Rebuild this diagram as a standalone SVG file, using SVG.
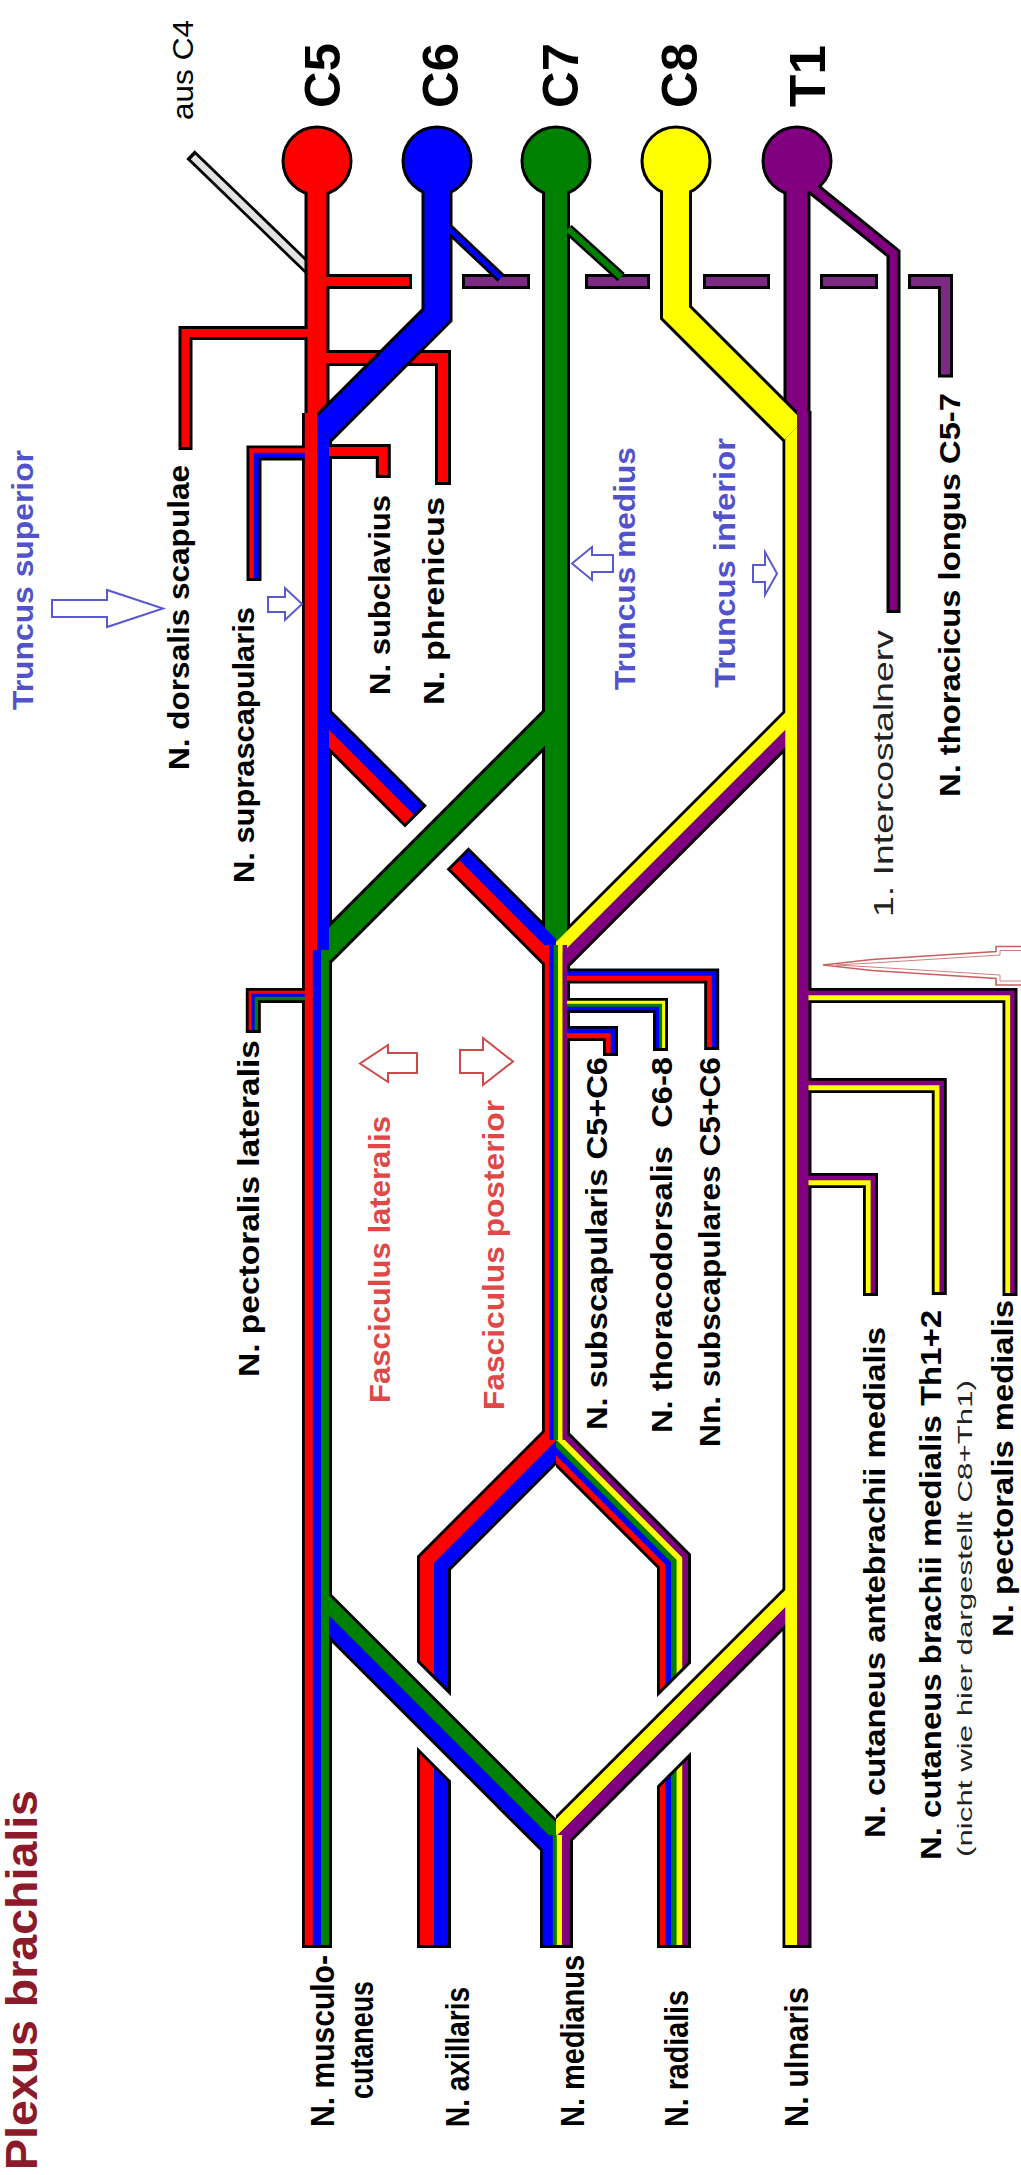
<svg xmlns="http://www.w3.org/2000/svg" width="1021" height="2175" viewBox="0 0 1021 2175">
<style>
path{fill:none;stroke-linejoin:miter;stroke-linecap:butt}
.k{stroke:#000}
.r{stroke:#f00}.b{stroke:#00f}.g{stroke:#008000}.y{stroke:#ff0}.p{stroke:#800080}
.w{stroke:#e2e2e2}
.dash{fill:#7d2a85;stroke:#000;stroke-width:3}
circle{stroke:#000;stroke-width:3}
text{font-family:"Liberation Sans",Arial,sans-serif}
.lb{font-weight:bold;font-size:30px;fill:#000}
.lr{font-size:28px;fill:#222}
.tb{font-weight:bold;font-size:30px;fill:#5252cc}
.tr{font-weight:bold;font-size:30px;fill:#e04848}
.root{font-weight:bold;font-size:50px;fill:#000}
.bt{font-weight:bold;font-size:33px;fill:#000}
.arB{fill:#fff;stroke:#5a5ad0;stroke-width:2}
.arR{fill:#fff;stroke:#cc4a4a;stroke-width:2}
</style>
<defs>
<clipPath id="cR317"><rect x="317" y="0" width="704" height="2175"/></clipPath>
<clipPath id="cL556"><rect x="0" y="0" width="556" height="2175"/></clipPath>
<clipPath id="cL797"><rect x="0" y="0" width="797" height="2175"/></clipPath>
<clipPath id="c317_556"><rect x="317" y="0" width="239" height="2175"/></clipPath>
<clipPath id="c556_797"><rect x="556" y="0" width="241" height="2175"/></clipPath>
<clipPath id="axUK"><polygon points="0,0 556,0 556,1801.2 0,1245.2"/></clipPath>
<clipPath id="axUC"><polygon points="0,0 556,0 556,1797 0,1241"/></clipPath>
<clipPath id="axLK"><polygon points="0,1329.8 620,1949.8 620,2175 0,2175"/></clipPath>
<clipPath id="axLC"><polygon points="0,1334 620,1954 620,2175 0,2175"/></clipPath>
<clipPath id="raUK"><polygon points="556,0 1021,0 1021,1333.2 556,1798.2"/></clipPath>
<clipPath id="raUC"><polygon points="556,0 1021,0 1021,1329 556,1794"/></clipPath>
<clipPath id="raLK"><polygon points="600,1842.8 1021,1421.8 1021,2175 600,2175"/></clipPath>
<clipPath id="raLC"><polygon points="600,1847 1021,1426 1021,2175 600,2175"/></clipPath>
</defs>
<rect width="1021" height="2175" fill="#fff"/>

<g id="connectors">
<!-- aus C4 -->
<path class="k" stroke-width="12" d="M190.5 154.6 L312 272"/>
<path class="w" stroke-width="6.5" d="M193 157 L312 272"/>
<!-- thoracicus longus dashes -->
<rect class="dash" x="463.5" y="275.5" width="65" height="12"/>
<rect class="dash" x="586.5" y="275.5" width="62" height="12"/>
<rect class="dash" x="704.5" y="275.5" width="64" height="12"/>
<rect class="dash" x="821.5" y="275.5" width="55" height="12"/>
<path class="k" stroke-width="15" d="M908 281.5 H945.5 V377.5"/>
<path stroke="#7d2a85" stroke-width="9" d="M911 281.5 H945.5 V374.5"/>

<!-- BLACK LAYER -->
<g class="k">
<path stroke-width="25" d="M317 161 V413"/>
<path stroke-width="28" d="M556 161 V945"/>
<path stroke-width="27" d="M797 161 V413"/>
<path stroke-width="30" d="M317 413 V1948"/>
<path stroke-width="29" d="M797 410.9 V1948"/>
<path stroke-width="28" d="M556 945 V1450"/>
<path stroke-width="33" d="M556.5 1828 V1948"/>
<path stroke-width="30" clip-path="url(#cR317)" d="M556.8 716.8 L321.45 952.15"/>
<path stroke-width="31" clip-path="url(#cR317)" d="M314.65 715.35 L415.9 816.6"/>
<path stroke-width="31" clip-path="url(#cL556)" d="M457.55 858.25 L555.65 956.35"/>
<path stroke-width="30" clip-path="url(#c556_797)" d="M800 715.2 L548 967.2"/>
<path stroke-width="34" clip-path="url(#c317_556)" d="M310 1596.6 L560 1846.6"/>
<path stroke-width="30" clip-path="url(#c556_797)" d="M804 1588.5 L552 1840.5"/>
<path stroke-width="34" clip-path="url(#axUK)" d="M566 1431 L434 1563 V1800"/>
<path stroke-width="34" clip-path="url(#axLK)" d="M434 1700 V1948"/>
<path stroke-width="34" clip-path="url(#raUK)" d="M546 1433 L674 1561 V1800"/>
<path stroke-width="34" clip-path="url(#raLK)" d="M674 1700 V1948"/>
<path stroke-width="15" d="M329 281.5 H412"/>
<path stroke-width="14" d="M310 333 H185.5 V450"/>
<path stroke-width="16" d="M326 358 H443 V485"/>
<path stroke-width="15" d="M326 451.5 H383.3 V478"/>
<path stroke-width="15" d="M308 453 H254 V581"/>
<path stroke-width="15" d="M308 995.5 H253.3 V1033"/>
<path stroke-width="11" d="M568 229 L621 277"/>
<path stroke-width="14" d="M810 186 L893.5 253.5 V613"/>
<path stroke-width="15" d="M566 976 H711.7 V1050"/>
<path stroke-width="15" d="M566 1005.5 H660.5 V1051"/>
<path stroke-width="15" d="M566 1033.5 H610.5 V1056"/>
<path stroke-width="15" d="M808 995.5 H1010 V1296"/>
<path stroke-width="15" d="M808 1085.5 H939.3 V1295"/>
<path stroke-width="15" d="M808 1180.5 H870.5 V1296"/>
</g>
</g>

<g id="node-C5"><circle cx="317" cy="161" r="34" fill="#f00"/></g>
<g id="node-C7"><circle cx="556" cy="161" r="34" fill="#008000"/></g>
<g id="node-T1"><circle cx="797" cy="161" r="34" fill="#800080"/></g>

<g id="connectors-color">
<path class="r" stroke-width="9" d="M326 281.5 H409"/>
<path class="r" stroke-width="8" d="M310 333 H185.5 V447"/>
<path class="r" stroke-width="10" d="M326 358 H443 V482"/>
<path class="r" stroke-width="9" d="M326 451.5 H383.3 V475"/>
<path class="r" stroke-width="4.8" d="M308 450.75 H251.75 V578"/>
<path class="b" stroke-width="4.8" d="M308 455.25 H256.25 V578"/>
<path class="r" stroke-width="3.3" d="M308 992.5 H250.3 V1030"/>
<path class="b" stroke-width="3.3" d="M308 995.5 H253.3 V1030"/>
<path class="g" stroke-width="3.3" d="M308 998.5 H256.3 V1030"/>
<path class="g" stroke-width="6" d="M568 229 L621 277"/>
<path class="p" stroke-width="8" d="M810 186 L893.5 253.5 V610"/>
<path class="b" stroke-width="4.8" d="M566 973.75 H713.95 V1047"/>
<path class="r" stroke-width="4.8" d="M566 978.25 H709.45 V1047"/>
<path class="y" stroke-width="3.3" d="M566 1002.5 H663.5 V1048"/>
<path class="g" stroke-width="3.3" d="M566 1005.5 H660.5 V1048"/>
<path class="b" stroke-width="3.3" d="M566 1008.5 H657.5 V1048"/>
<path class="b" stroke-width="4.8" d="M566 1031.25 H612.75 V1053"/>
<path class="r" stroke-width="4.8" d="M566 1035.75 H608.25 V1053"/>
<path class="p" stroke-width="4.8" d="M808 993.25 H1012.25 V1293"/>
<path class="y" stroke-width="4.8" d="M808 997.75 H1007.75 V1293"/>
<path class="p" stroke-width="4.8" d="M808 1083.25 H941.55 V1292"/>
<path class="y" stroke-width="4.8" d="M808 1087.75 H937.05 V1292"/>
<path class="p" stroke-width="4.8" d="M808 1178.25 H872.75 V1293"/>
<path class="y" stroke-width="4.8" d="M808 1182.75 H868.25 V1293"/>

<path class="r" stroke-width="19" d="M317 161 V413"/>
<path class="g" stroke-width="22" d="M556 161 V945"/>
<path class="p" stroke-width="21" d="M797 161 V413"/>

<path class="g" stroke-width="24" clip-path="url(#cR317)" d="M556.8 716.8 L321.45 952.15"/>
<g clip-path="url(#cR317)">
<path class="r" stroke-width="12.8" d="M310.23 719.77 L409.38 818.92"/>
<path class="b" stroke-width="12.5" d="M319.07 710.93 L418.22 810.08"/>
</g>
<g clip-path="url(#cL556)">
<path class="r" stroke-width="12.8" d="M455.23 864.77 L551.23 960.77"/>
<path class="b" stroke-width="12.5" d="M464.07 855.93 L560.07 951.93"/>
</g>
<g clip-path="url(#c556_797)">
<path class="y" stroke-width="12.3" d="M795.76 710.96 L543.76 962.96"/>
<path class="p" stroke-width="12" d="M804.24 719.44 L552.24 971.44"/>
</g>
<g clip-path="url(#c317_556)">
<path class="g" stroke-width="14.3" d="M314.95 1591.65 L564.95 1841.65"/>
<path class="b" stroke-width="14" d="M305.05 1601.55 L555.05 1851.55"/>
</g>
<g clip-path="url(#c556_797)">
<path class="y" stroke-width="12.3" d="M799.76 1584.26 L547.76 1836.26"/>
<path class="p" stroke-width="12" d="M808.24 1592.74 L556.24 1844.74"/>
</g>
<g clip-path="url(#axUC)">
<path class="r" stroke-width="14.3" d="M561.05 1426.05 L427 1560.1 V1800"/>
<path class="b" stroke-width="14" d="M570.95 1435.95 L441 1565.9 V1800"/>
</g>
<g clip-path="url(#axLC)">
<path class="r" stroke-width="14.3" d="M427 1700 V1945"/>
<path class="b" stroke-width="14" d="M441 1700 V1945"/>
</g>
<g clip-path="url(#raUC)">
<path class="r" stroke-width="6" d="M538.08 1440.92 L662.8 1565.64 V1800"/>
<path class="b" stroke-width="6" d="M542.04 1436.96 L668.4 1563.32 V1800"/>
<path class="g" stroke-width="6" d="M546 1433 L674 1561 V1800"/>
<path class="y" stroke-width="6" d="M549.96 1429.04 L679.6 1558.68 V1800"/>
<path class="p" stroke-width="5.6" d="M553.92 1425.08 L685.2 1556.36 V1800"/>
</g>
<g clip-path="url(#raLC)">
<path class="r" stroke-width="6" d="M662.8 1700 V1945"/>
<path class="b" stroke-width="6" d="M668.4 1700 V1945"/>
<path class="g" stroke-width="6" d="M674 1700 V1945"/>
<path class="y" stroke-width="6" d="M679.6 1700 V1945"/>
<path class="p" stroke-width="5.6" d="M685.2 1700 V1945"/>
</g>

<path class="r" stroke-width="12.4" d="M311 413 V950"/>
<path class="b" stroke-width="12" d="M323 413 V950"/>
<path class="r" stroke-width="8.4" d="M309 950 V1945"/>
<path class="b" stroke-width="8.4" d="M317 950 V1945"/>
<path class="g" stroke-width="8" d="M325 950 V1945"/>
<path class="y" stroke-width="11.9" d="M791.25 410.9 V1945"/>
<path class="p" stroke-width="11.5" d="M802.75 410.9 V1945"/>
<path class="r" stroke-width="4.8" d="M547.2 945 V1440"/>
<path class="b" stroke-width="4.8" d="M551.6 945 V1440"/>
<path class="g" stroke-width="4.8" d="M556 945 V1440"/>
<path class="y" stroke-width="4.8" d="M560.4 945 V1440"/>
<path class="p" stroke-width="4.4" d="M564.8 945 V1440"/>
<path class="b" stroke-width="10.4" d="M548 1835 V1945"/>
<path class="g" stroke-width="4.4" d="M555 1835 V1945"/>
<path class="y" stroke-width="5.4" d="M559.5 1835 V1945"/>
<path class="p" stroke-width="8" d="M566 1835 V1945"/>
</g>

<g id="node-C6">
<path class="k" stroke-width="31" clip-path="url(#cR317)" d="M437 161 V315 L321 431"/>
<path class="k" stroke-width="10" d="M448 228 L501 278"/>
<circle cx="437" cy="161" r="34" fill="#00f"/>
<path class="b" stroke-width="25" clip-path="url(#cR317)" d="M437 161 V315 L321 431"/>
<path class="b" stroke-width="5" d="M448 228 L501 278"/>
</g>
<g id="node-C8">
<path class="k" stroke-width="32" clip-path="url(#cL797)" d="M676 161 V312.5 L793.8 430.3"/>
<circle cx="676" cy="161" r="34" fill="#ff0"/>
<path class="y" stroke-width="26" clip-path="url(#cL797)" d="M676 161 V312.5 L793.8 430.3"/>
</g>

<g id="arrows">
<polygon class="arB" points="52,600 107,600 107,590 163,608.5 107,627 107,617 52,617"/>
<polygon class="arB" points="268,597 285,597 285,588 302,604 285,620 285,612 268,612"/>
<polygon class="arB" points="613,555 592,555 592,547 572,563.5 592,580 592,572 613,572"/>
<polygon class="arB" points="753,565 765,565 765,552 777,573.5 765,595 765,582 753,582"/>
<polygon class="arR" points="417,1053 388,1053 388,1045 360,1063.5 388,1082 388,1073 417,1073"/>
<polygon class="arR" points="460,1050 483,1050 483,1038 513,1061.5 483,1085 483,1073 460,1073"/>
<polygon fill="none" stroke="#c86060" stroke-width="1.6" points="823,965 872,959.5 996,951.5 996,946.5 1030,946.5 1030,985 996,985 996,978.5 872,970.5"/>
<polyline fill="none" stroke="#d08080" stroke-width="1" points="1030,950.5 1000,950.5 1000,955 872,963 836,965 872,967 1000,975 1000,981 1030,981"/>
</g>

<g id="labels">
<text style="font-size:29px;fill:#000" transform="translate(193,120) rotate(-90)" textLength="100" lengthAdjust="spacingAndGlyphs">aus C4</text>
<text class="root" transform="translate(340,108) rotate(-90)" textLength="65" lengthAdjust="spacingAndGlyphs">C5</text>
<text class="root" transform="translate(458,108) rotate(-90)" textLength="65" lengthAdjust="spacingAndGlyphs">C6</text>
<text class="root" transform="translate(578,108) rotate(-90)" textLength="65" lengthAdjust="spacingAndGlyphs">C7</text>
<text class="root" transform="translate(697,108) rotate(-90)" textLength="65" lengthAdjust="spacingAndGlyphs">C8</text>
<text class="root" transform="translate(825,107) rotate(-90)" textLength="62" lengthAdjust="spacingAndGlyphs">T1</text>
<text class="tb" transform="translate(33,710) rotate(-90)" textLength="260" lengthAdjust="spacingAndGlyphs">Truncus superior</text>
<text class="lb" transform="translate(189,770) rotate(-90)" textLength="305" lengthAdjust="spacingAndGlyphs">N. dorsalis scapulae</text>
<text class="lb" transform="translate(254,883) rotate(-90)" textLength="276" lengthAdjust="spacingAndGlyphs">N. suprascapularis</text>
<text class="lb" transform="translate(390,695) rotate(-90)" textLength="200" lengthAdjust="spacingAndGlyphs">N. subclavius</text>
<text class="lb" transform="translate(444,705) rotate(-90)" textLength="208" lengthAdjust="spacingAndGlyphs">N. phrenicus</text>
<text class="tb" transform="translate(635,690) rotate(-90)" textLength="243" lengthAdjust="spacingAndGlyphs">Truncus medius</text>
<text class="tb" transform="translate(735,688) rotate(-90)" textLength="250" lengthAdjust="spacingAndGlyphs">Truncus inferior</text>
<text class="lr" transform="translate(893,917) rotate(-90)" textLength="287" lengthAdjust="spacingAndGlyphs">1. Intercostalnerv</text>
<text class="lb" transform="translate(960,797) rotate(-90)" textLength="404" lengthAdjust="spacingAndGlyphs">N. thoracicus longus C5-7</text>
<text class="lb" transform="translate(259,1377) rotate(-90)" textLength="337" lengthAdjust="spacingAndGlyphs">N. pectoralis lateralis</text>
<text class="tr" transform="translate(390,1403) rotate(-90)" textLength="287" lengthAdjust="spacingAndGlyphs">Fasciculus lateralis</text>
<text class="tr" transform="translate(504,1410) rotate(-90)" textLength="310" lengthAdjust="spacingAndGlyphs">Fasciculus posterior</text>
<text class="lb" transform="translate(607,1430) rotate(-90)" textLength="373" lengthAdjust="spacingAndGlyphs">N. subscapularis C5+C6</text>
<text class="lb" transform="translate(672,1433) rotate(-90)" textLength="376" lengthAdjust="spacingAndGlyphs" xml:space="preserve">N. thoracodorsalis  C6-8</text>
<text class="lb" transform="translate(720,1447) rotate(-90)" textLength="390" lengthAdjust="spacingAndGlyphs">Nn. subscapulares C5+C6</text>
<text class="lb" transform="translate(885,1838) rotate(-90)" textLength="511" lengthAdjust="spacingAndGlyphs">N. cutaneus antebrachii medialis</text>
<text class="lb" transform="translate(941,1860) rotate(-90)" textLength="550" lengthAdjust="spacingAndGlyphs">N. cutaneus brachii medialis Th1+2</text>
<text class="lr" style="font-size:21px" transform="translate(972,1857) rotate(-90)" textLength="477" lengthAdjust="spacingAndGlyphs">(nicht wie hier dargestellt C8+Th1)</text>
<text class="lb" transform="translate(1013,1637) rotate(-90)" textLength="337" lengthAdjust="spacingAndGlyphs">N. pectoralis medialis</text>
<text class="bt" transform="translate(334,2127) rotate(-90)" textLength="172" lengthAdjust="spacingAndGlyphs">N. musculo-</text>
<text class="bt" transform="translate(373,2099) rotate(-90)" textLength="118" lengthAdjust="spacingAndGlyphs">cutaneus</text>
<text class="bt" transform="translate(469,2127) rotate(-90)" textLength="140" lengthAdjust="spacingAndGlyphs">N. axillaris</text>
<text class="bt" transform="translate(584,2127) rotate(-90)" textLength="172" lengthAdjust="spacingAndGlyphs">N. medianus</text>
<text class="bt" transform="translate(688,2127) rotate(-90)" textLength="137" lengthAdjust="spacingAndGlyphs">N. radialis</text>
<text class="bt" transform="translate(808,2127) rotate(-90)" textLength="140" lengthAdjust="spacingAndGlyphs">N. ulnaris</text>
<text style="font-weight:bold;font-size:44px;fill:#8b1a2a" transform="translate(37,2170) rotate(-90)" textLength="380" lengthAdjust="spacingAndGlyphs">Plexus brachialis</text>
</g>
</svg>
